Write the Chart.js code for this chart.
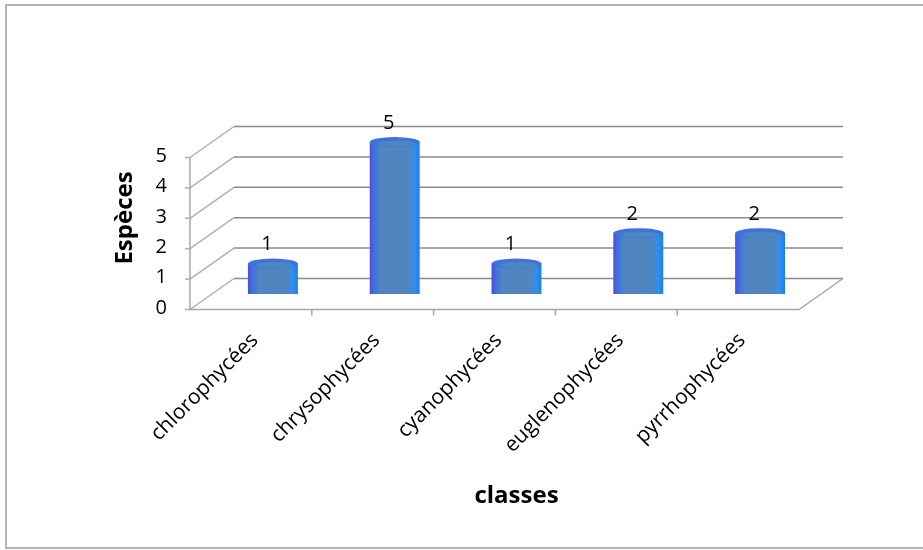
<!DOCTYPE html>
<html>
<head>
<meta charset="utf-8">
<script src="https://cdn.jsdelivr.net/npm/chart.js@4.4.0/dist/chart.umd.min.js"></script>
<style>
html, body { margin: 0; padding: 0; background: #fff; }
#wrap { width: 923px; height: 550px; position: relative; }
</style>
</head>
<body>
<div id="wrap"><canvas id="chart"></canvas></div>
<script>
// données
const classes = ['chlorophycées', 'chrysophycées', 'cyanophycées', 'euglenophycées', 'pyrrhophycées'];
const especes = [1, 5, 1, 2, 2];
const yMin = 0;
const yMax = 5;
const yStep = 1;

// décalage de profondeur (effet 3D façon Excel)
const DX = 22;
const DY = 15.5;
const FONT = '"Open Sans", "Liberation Sans", sans-serif';

// dégradé horizontal pour les barres "cylindre"
function barFill(context) {
    const chart = context.chart;
    const xs = chart.scales && chart.scales.x;
    if (!chart.chartArea || !xs) return '#4f86c0';
    const cx = xs.getPixelForValue(context.dataIndex);
    const half = 25;
    const g = chart.ctx.createLinearGradient(cx - half, 0, cx + half, 0);
    g.addColorStop(0, '#5648d8');
    g.addColorStop(0.08, '#3e6fe0');
    g.addColorStop(0.22, '#4f86c0');
    g.addColorStop(0.78, '#4f86c0');
    g.addColorStop(0.9, '#2f8ff0');
    g.addColorStop(1, '#1f7fe0');
    return g;
}

const pseudo3d = {
    id: 'pseudo3d',
    beforeDraw(chart) {
        const ctx = chart.ctx;
        ctx.save();
        ctx.strokeStyle = '#b5b5b5';
        ctx.lineWidth = 2;
        ctx.strokeRect(6, 5, 940, 543);
        ctx.restore();
    },
    beforeDatasetsDraw(chart) {
        const ctx = chart.ctx;
        const ys = chart.scales.y;
        const a = chart.chartArea;
        const backL = a.left + DX, backR = a.right + DX;
        const frontL = a.left - DX, frontR = a.right - DX;
        ctx.save();
        ctx.lineWidth = 1.5;
        for (let v = yMin; v <= yMax; v += yStep) {
            const y = ys.getPixelForValue(v);
            // mur du fond
            ctx.strokeStyle = '#8a8a8a';
            ctx.beginPath();
            ctx.moveTo(backL, y - DY);
            ctx.lineTo(backR, y - DY);
            ctx.stroke();
            // mur de gauche
            ctx.strokeStyle = '#b0b0b0';
            ctx.beginPath();
            ctx.moveTo(frontL, y + DY);
            ctx.lineTo(backL, y - DY);
            ctx.stroke();
            // petites graduations
            ctx.beginPath();
            ctx.moveTo(frontL - 5, y + DY);
            ctx.lineTo(frontL, y + DY);
            ctx.stroke();
        }
        const y0 = ys.getPixelForValue(yMin);
        const y5 = ys.getPixelForValue(yMax);
        ctx.strokeStyle = '#a8a8a8';
        // axe vertical avant
        ctx.beginPath();
        ctx.moveTo(frontL, y5 + DY);
        ctx.lineTo(frontL, y0 + DY);
        // bord avant du sol
        ctx.lineTo(frontR, y0 + DY);
        // bord droit du sol
        ctx.lineTo(backR, y0 - DY);
        ctx.stroke();
        // graduations de l'axe des classes
        const step = (a.right - a.left) / classes.length;
        for (let i = 1; i < classes.length; i++) {
            const x = a.left + i * step - DX;
            ctx.beginPath();
            ctx.moveTo(x, y0 + DY);
            ctx.lineTo(x, y0 + DY + 6);
            ctx.stroke();
        }
        ctx.restore();
    },
    afterDatasetsDraw(chart) {
        const ctx = chart.ctx;
        const meta = chart.getDatasetMeta(0);
        ctx.save();
        meta.data.forEach((bar, i) => {
            const rx = bar.width / 2;
            // dessus du cylindre
            ctx.fillStyle = '#3d72e0';
            ctx.beginPath();
            ctx.ellipse(bar.x, bar.y, rx, 5, 0, 0, Math.PI * 2);
            ctx.fill();
            ctx.fillStyle = '#4f86c0';
            ctx.beginPath();
            ctx.ellipse(bar.x + 2, bar.y + 1.5, rx - 6, 3, 0, 0, Math.PI * 2);
            ctx.fill();
            // étiquette de valeur
            ctx.fillStyle = '#000';
            ctx.font = '20px ' + FONT;
            ctx.textAlign = 'center';
            ctx.textBaseline = 'middle';
            ctx.fillText(String(especes[i]), bar.x - 6, bar.y - 19);
        });
        ctx.restore();
    }
};

new Chart(document.getElementById('chart'), {
    type: 'bar',
    data: {
        labels: classes,
        datasets: [{
            label: 'Espèces',
            data: especes,
            backgroundColor: barFill,
            borderWidth: 0,
            categoryPercentage: 1,
            barPercentage: 0.41
        }]
    },
    options: {
        responsive: true,
        maintainAspectRatio: false,
        animation: false,
        layout: {
            padding: { left: 107, right: 102, top: 142, bottom: 35 }
        },
        plugins: {
            legend: { display: false },
            tooltip: { enabled: false }
        },
        scales: {
            x: {
                afterFit: s => { s.height = 221; },
                grid: { display: false, drawTicks: false },
                border: { display: false },
                ticks: {
                    minRotation: 45,
                    maxRotation: 45,
                    padding: 34,
                    labelOffset: -18,
                    color: '#000',
                    font: { family: FONT, size: 21 }
                },
                title: {
                    display: true,
                    text: 'classes',
                    color: '#000',
                    font: { family: FONT, size: 24, weight: 'bold' }
                }
            },
            y: {
                min: yMin,
                max: yMax,
                afterFit: s => { s.width = 105; },
                grid: { display: false, drawTicks: false },
                border: { display: false },
                ticks: {
                    stepSize: yStep,
                    padding: 45,
                    labelOffset: 14,
                    color: '#000',
                    font: { family: FONT, size: 20 }
                },
                title: {
                    display: true,
                    text: 'Espèces',
                    color: '#000',
                    font: { family: FONT, size: 24, weight: 'bold' }
                }
            }
        }
    },
    plugins: [pseudo3d]
});
</script>
</body>
</html>
